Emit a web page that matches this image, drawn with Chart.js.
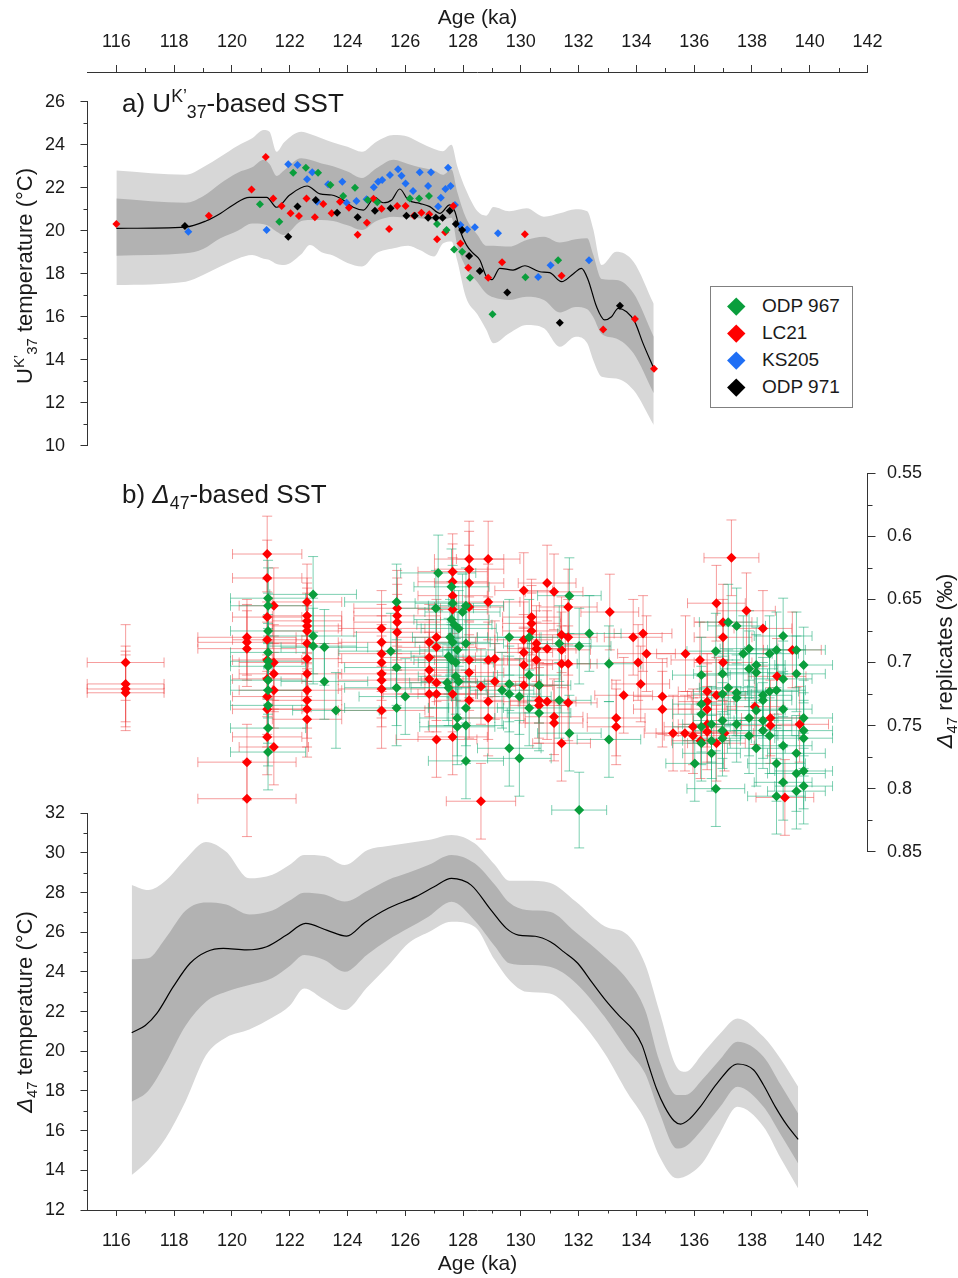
<!DOCTYPE html>
<html>
<head>
<meta charset="utf-8">
<script src="https://cdn.jsdelivr.net/npm/chart.js@4.4.1/dist/chart.umd.min.js"></script>
<style>
  body { margin: 0; background: #fff; }
  #fig { position: relative; width: 958px; height: 1278px; font-family: 'Liberation Sans', Arial, sans-serif; color: #1a1a1a; overflow: hidden; }
  #fig canvas { position: absolute; left: 0; top: 0; }
  .ttl { position: absolute; white-space: nowrap; font-size: 26px; line-height: 30px; }
  .vt { position: absolute; width: 400px; height: 26px; line-height: 26px; text-align: center; font-size: 22px; white-space: nowrap; transform: rotate(-90deg); }
  sub, sup { font-size: 0.68em; line-height: 0; }
  #legend { position: absolute; left: 710px; top: 286px; width: 141px; height: 120px; border: 1px solid #808080; background: #fff; font-size: 19px; }
  #legend .li { position: absolute; left: 0; height: 20px; line-height: 20px; padding-left: 51px; white-space: nowrap; }
  #legend .dm { position: absolute; left: 19px; top: 4px; width: 12.5px; height: 12.5px; transform: rotate(45deg); }
</style>
</head>
<body>
<div id="fig">
  <canvas id="chartC" width="958" height="1278"></canvas>
  <canvas id="chartA" width="958" height="1278"></canvas>
  <canvas id="chartB" width="958" height="1278"></canvas>
  <canvas id="chartT" width="958" height="1278"></canvas>

  <div class="ttl" style="left:122px;top:88px">a) U<sup>K’</sup><sub>37</sub>-based SST</div>
  <div class="ttl" style="left:122px;top:479px">b) <i>Δ</i><sub>47</sub>-based SST</div>

  <div class="vt" style="left:-175px;top:263px">U<sup>K’</sup><sub>37</sub> temperature (°C)</div>
  <div class="vt" style="left:745px;top:648px"><i>Δ</i><sub>47</sub> replicates (‰)</div>
  <div class="vt" style="left:-175px;top:999px"><i>Δ</i><sub>47</sub> temperature (°C)</div>

  <div id="legend">
    <div class="li" style="top:9px"><span class="dm" style="background:#0a9e3c"></span>ODP 967</div>
    <div class="li" style="top:36px"><span class="dm" style="background:#ff0000"></span>LC21</div>
    <div class="li" style="top:63px"><span class="dm" style="background:#1f6ff5"></span>KS205</div>
    <div class="li" style="top:90px"><span class="dm" style="background:#000000"></span>ODP 971</div>
  </div>
</div>

<script>
// ---------- tick values ----------
const ageTicks = [116, 118, 120, 122, 124, 126, 128, 130, 132, 134, 136, 138, 140, 142];
const ageMinor = [117, 119, 121, 123, 125, 127, 129, 131, 133, 135, 137, 139, 141];
const ukTicks = [10, 12, 14, 16, 18, 20, 22, 24, 26];
const ukMinor = [11, 13, 15, 17, 19, 21, 23, 25];
const d47Ticks = [0.55, 0.6, 0.65, 0.7, 0.75, 0.8, 0.85];
const d47Minor = [0.575, 0.625, 0.675, 0.725, 0.775, 0.825];
const tempTicks = [12, 14, 16, 18, 20, 22, 24, 26, 28, 30, 32];
const tempMinor = [13, 15, 17, 19, 21, 23, 25, 27, 29, 31];

// ---------- a) UK'37 stack ----------
const ukCurveAge = [116.0, 118.4, 119.1, 119.6, 120.04, 120.6, 121.2, 121.55, 122.0, 122.6, 123.05, 123.45, 123.85, 124.2, 124.55, 124.95, 125.24, 125.53, 125.81, 126.1, 126.5, 126.85, 127.2, 127.54, 127.72, 127.89, 128.12, 128.35, 128.58, 128.81, 129.0, 129.27, 129.73, 130.14, 130.66, 131.0, 131.41, 131.81, 132.1, 132.33, 132.62, 132.9, 133.14, 133.37, 133.66, 133.94, 134.23, 134.6];
const ukCurveT = [20.11, 20.17, 20.45, 20.8, 21.2, 21.55, 21.55, 21.09, 21.66, 22.08, 21.71, 21.66, 21.43, 21.09, 20.96, 21.55, 21.3, 21.43, 21.94, 21.43, 21.27, 21.12, 20.81, 21.2, 20.88, 20.03, 19.33, 18.95, 18.64, 17.86, 17.72, 18.25, 18.17, 18.37, 18.09, 18.05, 17.63, 17.99, 18.25, 17.71, 16.47, 15.85, 16.0, 16.39, 16.23, 15.77, 14.76, 13.6];

const ukBandAge = [116.0, 118.4, 119.0, 119.6, 120.2, 120.7, 121.1, 121.3, 121.55, 121.8, 122.4, 122.7, 123.1, 123.5, 124.0, 124.5, 125.0, 125.6, 126.1, 126.5, 127.0, 127.3, 127.6, 127.8, 128.1, 128.5, 128.8, 129.05, 129.6, 130.2, 130.8, 131.35, 131.9, 132.3, 132.5, 132.8, 133.3, 133.9, 134.6];
const ukLightHi = [22.8, 22.6, 22.95, 23.44, 23.95, 24.3, 24.68, 24.6, 23.67, 24.1, 24.6, 24.5, 24.3, 24.1, 23.9, 23.67, 24.14, 24.45, 24.37, 24.1, 23.8, 23.7, 24.0, 23.0, 21.9, 20.9, 20.7, 21.1, 20.9, 21.04, 20.65, 20.81, 21.0, 20.9, 20.1, 18.4, 19.02, 18.56, 16.6];
const ukDarkHi = [21.5, 21.3, 21.6, 22.2, 22.7, 22.95, 23.3, 23.1, 22.55, 22.8, 23.37, 23.3, 23.13, 23.0, 22.75, 22.45, 22.9, 23.3, 23.1, 22.95, 22.8, 22.6, 22.85, 21.8, 20.6, 19.8, 19.3, 19.3, 19.26, 19.57, 19.72, 19.45, 19.6, 19.65, 18.9, 17.75, 17.71, 17.09, 15.07];
const ukDarkLo = [18.84, 18.95, 19.15, 19.65, 20.0, 20.34, 20.3, 20.2, 19.95, 19.8, 20.45, 20.5, 20.5, 20.45, 20.25, 20.03, 20.45, 20.65, 20.6, 20.58, 20.5, 20.5, 20.6, 19.3, 18.3, 17.6, 17.09, 16.9, 16.78, 16.93, 16.78, 16.2, 16.45, 16.35, 16.0, 15.2, 14.99, 14.3, 12.44];
const ukLightLo = [17.47, 17.63, 17.94, 18.33, 18.7, 18.87, 18.7, 18.64, 18.45, 18.4, 18.9, 19.33, 19.0, 18.85, 18.5, 18.33, 18.95, 19.18, 19.3, 19.1, 18.8, 19.4, 19.5, 18.6, 16.9, 16.1, 15.4, 14.76, 15.23, 15.61, 15.46, 14.6, 15.07, 14.76, 14.0, 13.21, 13.13, 12.59, 10.96];

// [age ka, UK'37 SST]
const ukOdp967 = [[120.97, 21.23], [121.64, 20.42], [122.12, 22.7], [122.56, 22.93], [122.98, 22.7], [123.41, 22.13], [123.85, 21.61], [124.26, 22.0], [124.7, 21.43], [125.03, 21.32], [126.16, 21.5], [126.48, 21.5], [126.82, 21.61], [127.1, 20.31], [127.43, 20.03], [127.69, 19.13], [127.97, 19.02], [128.24, 17.81], [129.02, 16.11], [130.16, 17.83], [131.29, 18.62]];
const ukLc21 = [[116.0, 20.31], [119.2, 20.7], [120.68, 21.92], [121.17, 23.43], [121.43, 21.5], [121.72, 21.15], [122.03, 20.81], [122.32, 20.68], [122.58, 21.5], [122.87, 20.62], [123.16, 21.24], [123.45, 20.81], [123.74, 21.35], [124.05, 21.07], [124.35, 19.81], [124.67, 20.37], [124.9, 21.49], [125.18, 21.02], [125.44, 20.08], [125.72, 21.15], [126.01, 21.15], [126.3, 20.7], [126.56, 20.84], [126.83, 20.76], [127.1, 19.6], [127.38, 19.93], [127.66, 21.15], [127.91, 19.41], [128.18, 18.28], [128.87, 17.81], [129.35, 18.53], [130.14, 19.83], [131.41, 17.91], [132.85, 15.41], [133.95, 15.89], [134.61, 13.58]];
const ukKs205 = [[118.49, 19.95], [121.2, 20.03], [121.95, 23.09], [122.27, 23.06], [122.6, 22.39], [122.78, 22.72], [122.95, 21.35], [123.33, 22.16], [123.82, 22.28], [123.97, 21.3], [124.31, 21.38], [124.66, 21.46], [124.91, 22.02], [125.06, 22.28], [125.2, 22.36], [125.47, 22.59], [125.75, 22.86], [125.87, 22.56], [126.01, 22.2], [126.27, 21.85], [126.5, 22.72], [126.79, 22.08], [126.89, 22.72], [127.14, 21.12], [127.23, 21.53], [127.39, 21.94], [127.48, 22.93], [127.57, 22.08], [127.72, 21.2], [127.91, 20.27], [128.14, 20.06], [128.41, 20.16], [129.21, 19.88], [130.6, 17.85], [131.03, 18.39], [132.36, 18.62]];
const ukOdp971 = [[118.37, 20.22], [121.95, 19.72], [122.27, 21.12], [122.9, 21.43], [123.64, 20.84], [124.35, 20.62], [124.95, 20.93], [125.49, 21.04], [126.04, 20.7], [126.33, 20.7], [126.79, 20.6], [127.06, 20.6], [127.29, 20.6], [127.54, 20.93], [127.75, 20.31], [127.97, 20.03], [128.21, 18.82], [128.58, 18.13], [129.53, 17.12], [131.35, 15.72], [133.43, 16.51]];

// ---------- b) Δ47 replicates: [age ka, Δ47 ‰, age error ka] ----------
const d47Err = 0.03;
const d47Lc21 = [
  [116.32, 0.700, 1.33], [116.32, 0.717, 1.33], [116.32, 0.721, 1.33], [116.32, 0.724, 1.33],
  [120.52, 0.680, 1.7], [120.52, 0.684, 1.7], [120.52, 0.689, 1.7], [120.52, 0.779, 1.7], [120.52, 0.808, 1.7],
  [121.22, 0.614, 1.2], [121.22, 0.633, 1.2], [121.22, 0.664, 1.2], [121.22, 0.682, 1.2], [121.22, 0.698, 1.2], [121.22, 0.713, 1.2], [121.22, 0.727, 1.2], [121.22, 0.737, 1.2], [121.22, 0.759, 1.2],
  [121.45, 0.655, 1.2], [121.45, 0.700, 1.2], [121.45, 0.709, 1.2], [121.45, 0.722, 1.2], [121.45, 0.767, 1.2],
  [122.6, 0.652, 1.2], [122.6, 0.663, 1.2], [122.6, 0.667, 1.2], [122.6, 0.671, 1.2], [122.6, 0.675, 1.2], [122.6, 0.685, 1.2], [122.6, 0.697, 1.2], [122.6, 0.709, 1.2], [122.6, 0.722, 1.2], [122.6, 0.730, 1.2], [122.6, 0.737, 1.2], [122.6, 0.745, 1.2],
  [125.18, 0.673, 1.5], [125.18, 0.684, 1.5], [125.18, 0.693, 1.5], [125.18, 0.700, 1.5], [125.18, 0.709, 1.5], [125.18, 0.714, 1.5], [125.18, 0.721, 1.5], [125.18, 0.738, 1.5],
  [125.72, 0.657, 1.5], [125.72, 0.663, 1.5], [125.72, 0.668, 1.5], [125.72, 0.676, 1.5],
  [126.83, 0.684, 1.6], [126.83, 0.696, 1.6], [126.83, 0.706, 1.6], [126.83, 0.713, 1.6], [126.83, 0.725, 1.6],
  [127.08, 0.680, 1.4], [127.08, 0.688, 1.4], [127.08, 0.716, 1.4], [127.08, 0.725, 1.4], [127.08, 0.761, 1.4],
  [127.64, 0.628, 1.2], [127.64, 0.636, 1.2], [127.64, 0.647, 1.2], [127.64, 0.658, 1.2], [127.64, 0.725, 1.2], [127.64, 0.759, 1.2],
  [128.21, 0.618, 1.2], [128.21, 0.626, 1.2], [128.21, 0.637, 1.2], [128.21, 0.656, 1.2], [128.21, 0.698, 1.2], [128.21, 0.708, 1.2], [128.21, 0.730, 1.2],
  [128.62, 0.719, 1.2], [128.62, 0.810, 1.2],
  [128.87, 0.618, 1.1], [128.87, 0.652, 1.1], [128.87, 0.698, 1.1], [128.87, 0.731, 1.1], [128.87, 0.744, 1.1],
  [129.1, 0.697, 1.1], [129.1, 0.715, 1.1],
  [130.1, 0.643, 1.0], [130.1, 0.682, 1.0], [130.1, 0.692, 1.0], [130.1, 0.702, 1.0], [130.1, 0.718, 1.0],
  [130.37, 0.664, 1.0], [130.37, 0.669, 1.0], [130.37, 0.675, 1.0],
  [130.54, 0.685, 1.0], [130.54, 0.689, 1.0], [130.54, 0.698, 1.0],
  [130.63, 0.718, 1.0], [130.63, 0.730, 1.0], [130.63, 0.734, 1.0],
  [130.91, 0.637, 1.0], [130.91, 0.689, 1.0], [130.91, 0.731, 1.0],
  [131.15, 0.644, 1.0], [131.15, 0.743, 1.0], [131.15, 0.748, 1.0],
  [131.41, 0.678, 1.0], [131.41, 0.690, 1.0], [131.41, 0.701, 1.0], [131.41, 0.764, 1.0],
  [131.64, 0.656, 1.0], [131.64, 0.680, 1.0], [131.64, 0.701, 1.0], [131.64, 0.732, 1.0],
  [133.08, 0.660, 1.0], [133.3, 0.744, 1.0], [133.3, 0.751, 1.0], [133.56, 0.726, 1.0], [133.89, 0.680, 1.0],
  [134.06, 0.700, 1.0], [134.15, 0.717, 1.0], [134.23, 0.677, 1.0], [134.35, 0.693, 1.0],
  [134.9, 0.727, 1.0], [134.9, 0.737, 1.0], [135.27, 0.756, 1.0], [135.68, 0.756, 1.0], [135.7, 0.693, 1.0],
  [135.96, 0.751, 1.0], [135.96, 0.758, 1.0], [136.2, 0.698, 1.0], [136.22, 0.762, 1.0],
  [136.45, 0.723, 1.0], [136.45, 0.731, 1.0], [136.45, 0.737, 1.0], [136.45, 0.749, 1.0], [136.45, 0.755, 1.0],
  [136.77, 0.653, 1.0], [136.77, 0.726, 1.0], [136.77, 0.764, 1.0],
  [137.0, 0.668, 1.0], [137.0, 0.680, 1.0], [137.0, 0.700, 1.0], [137.05, 0.756, 1.0],
  [137.29, 0.617, 0.95], [137.81, 0.659, 1.0], [138.1, 0.735, 1.0], [138.38, 0.673, 1.0],
  [138.64, 0.744, 1.0], [138.64, 0.750, 1.0], [138.87, 0.711, 1.0], [139.14, 0.807, 1.0],
  [139.4, 0.690, 1.0], [139.65, 0.749, 1.0]
];
const d47Odp967 = [
  [121.25, 0.649, 1.3], [121.25, 0.655, 1.3], [121.25, 0.675, 1.3], [121.25, 0.692, 1.3], [121.25, 0.699, 1.3], [121.25, 0.703, 1.3], [121.25, 0.714, 1.3], [121.25, 0.722, 1.3], [121.25, 0.734, 1.3], [121.25, 0.752, 1.3], [121.25, 0.771, 1.3],
  [122.81, 0.646, 1.5], [122.81, 0.679, 1.5], [122.81, 0.687, 1.5],
  [123.2, 0.688, 1.5], [123.2, 0.715, 1.5], [123.6, 0.738, 1.5],
  [125.5, 0.691, 1.8], [125.7, 0.652, 1.8], [125.7, 0.704, 1.8], [125.7, 0.720, 1.8], [125.7, 0.736, 1.8], [126.0, 0.727, 1.6],
  [127.06, 0.657, 1.3], [127.14, 0.629, 1.3],
  [127.6, 0.640, 1.3], [127.64, 0.653, 1.3], [127.98, 0.660, 1.3], [127.6, 0.666, 1.3], [127.7, 0.670, 1.3], [127.85, 0.673, 1.3],
  [127.55, 0.680, 1.3], [127.64, 0.684, 1.3], [127.8, 0.690, 1.3], [127.5, 0.695, 1.3], [127.6, 0.698, 1.3], [127.75, 0.700, 1.3],
  [127.45, 0.716, 1.3], [127.5, 0.720, 1.3], [127.75, 0.711, 1.3], [127.85, 0.715, 1.3],
  [128.1, 0.655, 1.3], [128.1, 0.685, 1.3], [128.1, 0.736, 1.3], [128.1, 0.750, 1.3], [127.8, 0.744, 1.3], [127.8, 0.751, 1.3], [128.1, 0.778, 1.3],
  [129.35, 0.722, 1.1], [129.6, 0.680, 1.1], [129.6, 0.717, 1.1], [129.6, 0.725, 1.1], [129.6, 0.768, 1.1],
  [129.95, 0.727, 1.1], [129.95, 0.776, 1.1],
  [130.29, 0.680, 1.1], [130.29, 0.710, 1.1], [130.29, 0.736, 1.1],
  [130.63, 0.718, 1.1], [130.63, 0.740, 1.1],
  [131.33, 0.685, 1.1], [131.33, 0.730, 1.1], [131.68, 0.647, 1.1], [131.68, 0.756, 1.1],
  [132.02, 0.687, 1.1], [132.02, 0.817, 0.95], [132.37, 0.677, 1.1],
  [133.05, 0.701, 1.1], [133.05, 0.761, 1.1],
  [136.02, 0.780, 1.0],
  [136.25, 0.710, 1.0], [136.25, 0.733, 1.0], [136.25, 0.741, 1.0], [136.25, 0.751, 1.0], [136.25, 0.764, 1.0],
  [136.6, 0.749, 1.0], [136.6, 0.762, 1.0], [136.6, 0.772, 1.0],
  [136.75, 0.691, 1.0], [136.75, 0.800, 1.0],
  [136.98, 0.709, 1.0], [136.98, 0.725, 1.0], [136.98, 0.746, 1.0], [136.98, 0.754, 1.0], [136.98, 0.760, 1.0],
  [137.18, 0.668, 1.0], [137.18, 0.720, 1.0],
  [137.47, 0.671, 1.0], [137.47, 0.724, 1.0], [137.47, 0.728, 1.0], [137.47, 0.749, 1.0],
  [137.7, 0.693, 1.0],
  [137.9, 0.689, 1.0], [137.9, 0.705, 1.0], [137.9, 0.744, 1.0], [137.9, 0.758, 1.0],
  [138.15, 0.702, 1.0], [138.15, 0.708, 1.0], [138.15, 0.738, 1.0], [138.15, 0.768, 1.0],
  [138.38, 0.726, 1.0], [138.38, 0.730, 1.0], [138.38, 0.746, 1.0], [138.38, 0.754, 1.0],
  [138.61, 0.693, 1.0], [138.61, 0.723, 1.0], [138.61, 0.758, 1.0],
  [138.85, 0.690, 1.0], [138.85, 0.722, 1.0], [138.85, 0.780, 1.0], [138.85, 0.806, 1.0],
  [139.08, 0.679, 1.0], [139.08, 0.713, 1.0], [139.08, 0.737, 1.0], [139.08, 0.766, 1.0], [139.08, 0.795, 1.0],
  [139.54, 0.690, 1.0], [139.54, 0.709, 1.0], [139.54, 0.772, 1.0], [139.54, 0.788, 1.0], [139.54, 0.802, 1.0],
  [139.79, 0.702, 1.0], [139.79, 0.744, 1.0], [139.79, 0.754, 1.0], [139.79, 0.760, 1.0], [139.79, 0.786, 1.0], [139.79, 0.798, 1.0]
];

// ---------- Δ47 temperature stack ----------
const tCurveAge = [116.53, 117.0, 117.4, 117.97, 118.55, 119.12, 119.7, 120.5, 121.2, 121.89, 122.55, 123.3, 123.97, 124.6, 125.41, 126.37, 127.0, 127.6, 128.28, 128.97, 129.5, 129.92, 130.5, 131.02, 131.5, 131.97, 132.45, 132.93, 133.4, 133.89, 134.2, 134.44, 134.7, 134.98, 135.3, 135.53, 135.85, 136.21, 136.8, 137.51, 138.06, 138.4, 138.81, 139.2, 139.6];
const tCurveT = [20.94, 21.3, 21.91, 23.26, 24.44, 25.02, 25.19, 25.11, 25.27, 25.86, 26.45, 26.1, 25.81, 26.5, 27.21, 27.8, 28.3, 28.72, 28.38, 27.12, 26.2, 25.86, 25.8, 25.52, 25.0, 24.44, 23.5, 22.58, 21.8, 21.07, 20.3, 19.22, 18.1, 17.2, 16.5, 16.33, 16.6, 17.2, 18.4, 19.36, 19.06, 18.3, 17.2, 16.3, 15.56];
const tBandAge = [116.53, 117.1, 117.7, 118.4, 119.1, 119.8, 120.6, 121.4, 122.0, 122.5, 123.2, 123.9, 124.7, 125.4, 126.1, 126.8, 127.6, 128.4, 129.1, 129.6, 130.2, 131.0, 131.9, 132.9, 133.7, 134.3, 134.8, 135.4, 135.7, 136.3, 136.9, 137.5, 138.4, 139.0, 139.6];
const tLightHi = [28.39, 28.13, 28.6, 29.7, 30.55, 30.06, 28.72, 28.9, 29.4, 29.9, 29.85, 29.39, 30.15, 30.35, 30.5, 30.65, 30.91, 30.49, 29.4, 28.6, 28.6, 28.5, 27.55, 26.3, 25.86, 24.4, 22.0, 19.2, 18.97, 19.9, 20.9, 21.66, 20.73, 19.6, 18.21];
const tDarkHi = [24.64, 24.69, 25.7, 27.1, 27.5, 27.4, 26.9, 27.1, 27.6, 28.0, 27.9, 27.55, 28.1, 28.64, 29.0, 29.39, 29.9, 29.48, 28.4, 27.5, 27.12, 27.04, 26.0, 24.77, 23.6, 22.1, 19.5, 17.8, 17.8, 18.6, 19.6, 20.48, 19.73, 18.3, 16.87];
const tDarkLo = [17.46, 18.0, 19.4, 21.3, 22.5, 23.0, 23.34, 23.7, 24.3, 24.85, 24.6, 24.01, 24.9, 25.61, 26.2, 26.79, 27.54, 26.6, 25.3, 24.44, 24.35, 24.26, 23.45, 21.74, 20.06, 18.89, 16.9, 15.1, 15.2, 16.1, 17.2, 18.21, 17.2, 15.8, 14.35];
const tLightLo = [13.76, 14.5, 15.6, 17.5, 19.8, 20.7, 21.1, 21.7, 22.3, 23.17, 22.6, 22.08, 23.26, 24.3, 25.44, 26.0, 26.53, 26.28, 24.6, 23.6, 23.0, 22.92, 21.8, 19.9, 17.88, 16.53, 14.7, 13.6, 13.7, 14.4, 15.9, 17.2, 16.2, 14.6, 13.09];

// ---------- styling ----------
Chart.defaults.font.family = "'Liberation Sans', Arial, sans-serif";
Chart.defaults.color = '#1a1a1a';
const AXIS = '#333333';
const LIGHT = '#d7d7d7';
const DARK = '#b2b2b2';
const GREEN = '#0a9e3c';
const RED = '#ff0000';
const BLUE = '#1f6ff5';

const xy = (xs, ys) => xs.map((x, i) => ({ x: x, y: ys[i] }));
const pairs = arr => arr.map(p => ({ x: p[0], y: p[1] }));
const withErr = arr => arr.map(p => ({ x: p[0], y: p[1], xErr: p[2], yErr: d47Err }));
const fixedTicks = vals => scale => { scale.ticks = vals.map(v => ({ value: v })); };
const label = v => String(+v.toFixed(3));

function band(data, fillTo, color, order) {
  return { type: 'line', data: data, fill: fillTo === null ? false : fillTo, backgroundColor: color,
    borderColor: 'rgba(0,0,0,0)', borderWidth: 0, pointRadius: 0, cubicInterpolationMode: 'monotone', order: order };
}
function curve(data) {
  return { type: 'line', data: data, fill: false, borderColor: '#000', borderWidth: 1.2, pointRadius: 0,
    cubicInterpolationMode: 'monotone', order: 2 };
}
function dots(data, color, r, order) {
  return { data: data, backgroundColor: color, pointStyle: 'rectRot', pointRadius: r, borderWidth: 0, order: order };
}

// short minor ticks drawn on the library scales
const minorTicks = {
  id: 'minorTicks',
  afterDraw(chart, args, opts) {
    const ctx = chart.ctx;
    ctx.save();
    ctx.strokeStyle = AXIS;
    ctx.lineWidth = 1;
    ctx.beginPath();
    (opts.list || []).forEach(m => {
      const s = chart.scales[m.scale];
      m.values.forEach(v => {
        const p = Math.round(s.getPixelForValue(v)) + 0.5;
        if (s.position === 'left') { ctx.moveTo(s.right, p); ctx.lineTo(s.right - m.len, p); }
        else if (s.position === 'right') { ctx.moveTo(s.left, p); ctx.lineTo(s.left + m.len, p); }
        else if (s.position === 'top') { ctx.moveTo(p, s.bottom); ctx.lineTo(p, s.bottom - m.len); }
        else { ctx.moveTo(p, s.top); ctx.lineTo(p, s.top + m.len); }
      });
    });
    ctx.stroke();
    ctx.restore();
  }
};

// x and y error bars with caps, under the markers
const errorBars = {
  id: 'errorBars',
  beforeDatasetsDraw(chart) {
    const ctx = chart.ctx, xs = chart.scales.x, ys = chart.scales.y, cap = 5;
    chart.data.datasets.forEach(ds => {
      if (!ds.errorColor) return;
      ctx.save();
      ctx.strokeStyle = ds.errorColor;
      ctx.lineWidth = 1;
      ds.data.forEach(p => {
        const x = xs.getPixelForValue(p.x), y = ys.getPixelForValue(p.y);
        const xa = xs.getPixelForValue(p.x - p.xErr), xb = xs.getPixelForValue(p.x + p.xErr);
        const ya = ys.getPixelForValue(p.y - p.yErr), yb = ys.getPixelForValue(p.y + p.yErr);
        ctx.beginPath();
        ctx.moveTo(xa, y); ctx.lineTo(xb, y);
        ctx.moveTo(xa, y - cap); ctx.lineTo(xa, y + cap);
        ctx.moveTo(xb, y - cap); ctx.lineTo(xb, y + cap);
        ctx.moveTo(x, ya); ctx.lineTo(x, yb);
        ctx.moveTo(x - cap, ya); ctx.lineTo(x + cap, ya);
        ctx.moveTo(x - cap, yb); ctx.lineTo(x + cap, yb);
        ctx.stroke();
      });
      ctx.restore();
    });
  }
};

const base = { responsive: false, animation: false, events: [] };
const quiet = { legend: { display: false }, tooltip: { enabled: false } };

function yAxis(pos, min, max, ticks, width, tl, pad, extra) {
  return Object.assign({
    type: 'linear', position: pos, min: min, max: max,
    afterBuildTicks: fixedTicks(ticks),
    afterFit: s => { s.width = width; },
    border: { color: AXIS, width: 1 },
    grid: { drawOnChartArea: false, tickLength: tl, tickColor: AXIS, tickWidth: 1 },
    ticks: { font: { size: 18 }, color: '#1a1a1a', padding: pad, callback: label }
  }, extra || {});
}
function xAxis(pos, height, tl, pad, title) {
  return {
    type: 'linear', position: pos, min: 115, max: 142,
    afterBuildTicks: fixedTicks(ageTicks),
    afterFit: s => { s.height = height; },
    border: { color: AXIS, width: 1 },
    grid: { drawOnChartArea: false, tickLength: tl, tickColor: AXIS, tickWidth: 1 },
    ticks: { font: { size: 18 }, color: '#1a1a1a', padding: pad, maxRotation: 0, callback: label },
    title: title
  };
}

// top age axis
new Chart(document.getElementById('chartT'), {
  type: 'scatter',
  data: { datasets: [] },
  options: Object.assign({}, base, {
    layout: { padding: { left: 87.5, right: 90.5, top: 0, bottom: 1198 } },
    plugins: Object.assign({}, quiet, { minorTicks: { list: [{ scale: 'x', values: ageMinor, len: 4 }] } }),
    scales: {
      x: xAxis('top', 72, 7, 12, { display: true, text: 'Age (ka)', font: { size: 21 }, color: '#1a1a1a', padding: { top: 6, bottom: 0 } }),
      y: { display: false, min: 0, max: 1 }
    }
  }),
  plugins: [minorTicks]
});

// a) UK'37-based SST
new Chart(document.getElementById('chartA'), {
  type: 'scatter',
  data: { datasets: [
    band(xy(ukBandAge, ukLightHi), 1, LIGHT, 4),
    band(xy(ukBandAge, ukLightLo), null, LIGHT, 4),
    band(xy(ukBandAge, ukDarkHi), 3, DARK, 3),
    band(xy(ukBandAge, ukDarkLo), null, DARK, 3),
    curve(xy(ukCurveAge, ukCurveT)),
    dots(pairs(ukOdp967), GREEN, 4, 1),
    dots(pairs(ukLc21), RED, 4, 1),
    dots(pairs(ukKs205), BLUE, 4, 1),
    dots(pairs(ukOdp971), '#000000', 4, 0)
  ] },
  options: Object.assign({}, base, {
    layout: { padding: { left: 0, right: 90.5, top: 101.7, bottom: 832.3 } },
    plugins: Object.assign({}, quiet, { minorTicks: { list: [{ scale: 'y', values: ukMinor, len: 4 }] } }),
    scales: {
      x: { type: 'linear', display: false, min: 115, max: 142 },
      y: yAxis('left', 10, 26, ukTicks, 87.5, 7, 15.5)
    }
  }),
  plugins: [minorTicks]
});

// b) Δ47 replicates
new Chart(document.getElementById('chartB'), {
  type: 'scatter',
  data: { datasets: [
    Object.assign(dots(withErr(d47Lc21), RED, 5, 1), { errorColor: 'rgba(238,60,60,0.5)' }),
    Object.assign(dots(withErr(d47Odp967), GREEN, 5, 0), { errorColor: 'rgba(20,170,115,0.55)' })
  ] },
  options: Object.assign({}, base, {
    layout: { padding: { left: 87.5, right: 0, top: 473.3, bottom: 426.3 } },
    plugins: Object.assign({}, quiet, { minorTicks: { list: [{ scale: 'y', values: d47Minor, len: 5 }] } }),
    scales: {
      x: { type: 'linear', display: false, min: 115, max: 142 },
      y: yAxis('right', 0.55, 0.85, d47Ticks, 90.5, 8, 11.5, { reverse: true })
    }
  }),
  plugins: [errorBars, minorTicks]
});

// Δ47 temperature stack with bottom age axis
new Chart(document.getElementById('chartC'), {
  type: 'scatter',
  data: { datasets: [
    band(xy(tBandAge, tLightHi), 1, LIGHT, 4),
    band(xy(tBandAge, tLightLo), null, LIGHT, 4),
    band(xy(tBandAge, tDarkHi), 3, DARK, 3),
    band(xy(tBandAge, tDarkLo), null, DARK, 3),
    curve(xy(tCurveAge, tCurveT))
  ] },
  options: Object.assign({}, base, {
    layout: { padding: { left: 0, right: 90.5, top: 813.3, bottom: 0 } },
    plugins: Object.assign({}, quiet, { minorTicks: { list: [
      { scale: 'y', values: tempMinor, len: 4 },
      { scale: 'x', values: ageMinor, len: 3.5 }
    ] } }),
    scales: {
      x: xAxis('bottom', 68, 6, 14, { display: true, text: 'Age (ka)', font: { size: 21 }, color: '#1a1a1a', padding: { top: 0, bottom: 1 } }),
      y: yAxis('left', 12, 32, tempTicks, 87.5, 7, 15.5)
    }
  }),
  plugins: [minorTicks]
});
</script>
</body>
</html>
